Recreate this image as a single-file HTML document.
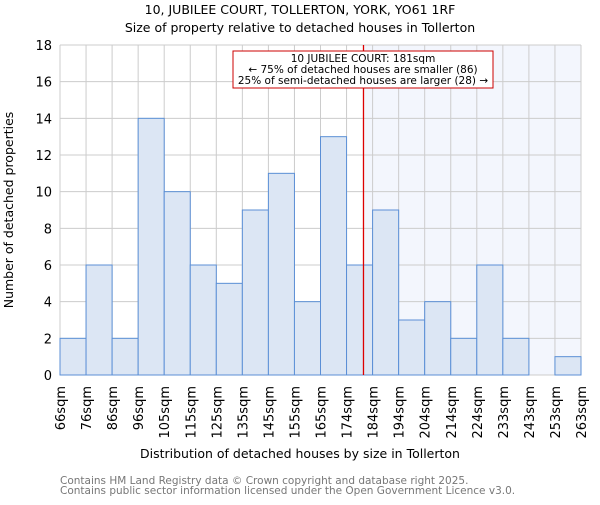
<!DOCTYPE html>
<html><head><meta charset="utf-8"><style>
body{margin:0;background:#fff;}
svg text{font-family:"DejaVu Sans","Liberation Sans",sans-serif;}
</style></head><body>
<svg id="c" width="600" height="500" xmlns="http://www.w3.org/2000/svg">
<text x="300" y="14" text-anchor="middle" font-size="12.5" fill="#000">10, JUBILEE COURT, TOLLERTON, YORK, YO61 1RF</text>
<text x="300" y="32" text-anchor="middle" font-size="12.5" fill="#000">Size of property relative to detached houses in Tollerton</text>
<g id="plot"></g>
<text x="300" y="458" text-anchor="middle" font-size="12.5">Distribution of detached houses by size in Tollerton</text>
<text transform="translate(13,210) rotate(-90)" text-anchor="middle" font-size="12.5">Number of detached properties</text>
<text x="60" y="484" font-size="10.5" fill="#777">Contains HM Land Registry data © Crown copyright and database right 2025.</text>
<text x="60" y="494" font-size="10.5" fill="#777">Contains public sector information licensed under the Open Government Licence v3.0.</text>
</svg>
<script>
const categories=["66sqm","76sqm","86sqm","96sqm","105sqm","115sqm","125sqm","135sqm","145sqm","155sqm","165sqm","174sqm","184sqm","194sqm","204sqm","214sqm","224sqm","233sqm","243sqm","253sqm","263sqm"];
const counts=[2,6,2,14,10,6,5,9,11,4,13,6,9,3,4,2,6,2,0,1];
const yTicks=[0,2,4,6,8,10,12,14,16,18];
const markerBin=11.65;
const NS="http://www.w3.org/2000/svg";
const X0=60,X1=581,Y0=375,Y1=45,YMAX=18;
const bw=(X1-X0)/counts.length;
const xs=i=>X0+i*bw;
const ys=v=>Y0-(v/YMAX)*(Y0-Y1);
const g=document.getElementById('plot');
function mk(t,a){const e=document.createElementNS(NS,t);for(const k in a)e.setAttribute(k,a[k]);g.appendChild(e);return e;}
const mx=xs(markerBin);
let sh=mk('rect',{x:mx,y:Y1,width:X1-mx,height:Y0-Y1,fill:'#f3f6fd'});


for(let i=0;i<=counts.length;i++){let l=mk('line',{x1:xs(i),x2:xs(i),y1:Y1,y2:Y0,stroke:'#cccccc','stroke-width':1});

}
yTicks.forEach(v=>{let l=mk('line',{x1:X0,x2:X1,y1:ys(v),y2:ys(v),stroke:'#cccccc','stroke-width':1});


let t=mk('text',{x:X0-8,y:ys(v)+5,'text-anchor':'end','font-size':'13'});t.textContent=v;

});
counts.forEach((v,i)=>{if(v<=0)return;let r=mk('rect',{x:xs(i),y:ys(v),width:bw,height:Y0-ys(v),fill:'#dce6f4',stroke:'#5b8fd6','stroke-width':1});

});
categories.forEach((c,i)=>{let t=mk('text',{transform:`translate(${xs(i)+5},386) rotate(-90)`,'text-anchor':'end','font-size':'13'});t.textContent=c;

});
let rl=mk('line',{x1:mx,x2:mx,y1:Y1,y2:Y0,stroke:'#dd0000','stroke-width':1.3});


let bx=mk('rect',{x:233,y:51,width:260,height:37,fill:'#fff',stroke:'#cc0000','stroke-width':1});


["10 JUBILEE COURT: 181sqm","← 75% of detached houses are smaller (86)","25% of semi-detached houses are larger (28) →"].forEach((s,k)=>{let t=mk('text',{x:363,y:62+k*11,'text-anchor':'middle','font-size':'10.5'});t.textContent=s;

});
</script>
</body></html>
